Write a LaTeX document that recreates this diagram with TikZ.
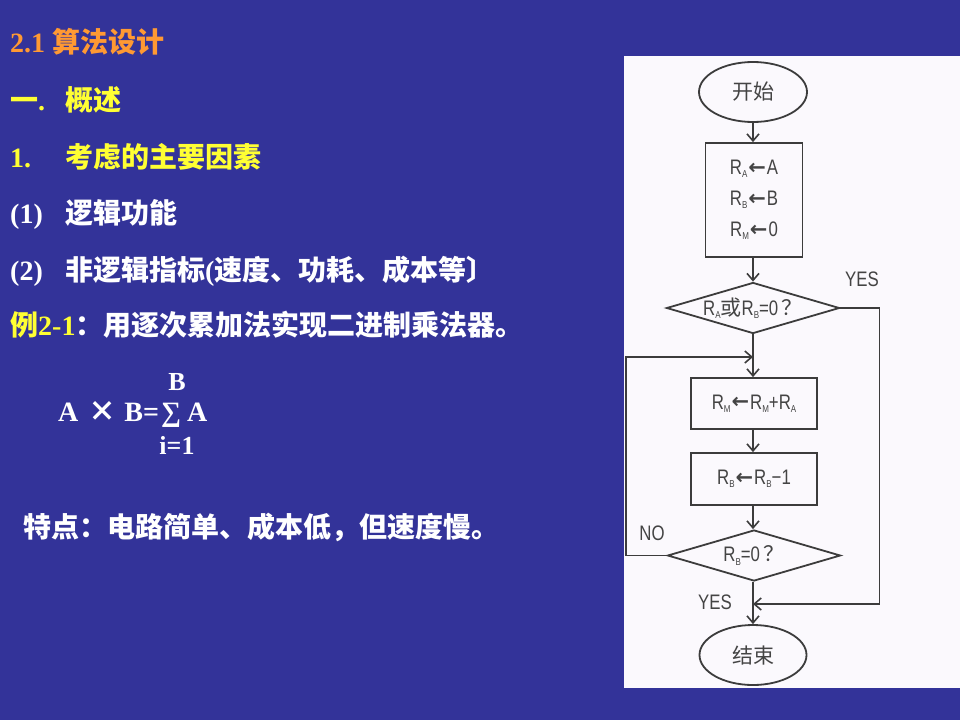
\documentclass[tikz,border=0pt]{standalone}
\usepackage{fontspec}
\setmainfont{Liberation Serif}
\newfontfamily\cjk{Noto Sans CJK SC}
\newfontfamily\fc{Liberation Sans}[FakeStretch=0.8]
\newfontfamily\djvfont{DejaVu Sans}
\usetikzlibrary{shapes.geometric,arrows.meta}
\definecolor{bg}{HTML}{333399}
\definecolor{panel}{HTML}{FBF9FD}
\definecolor{ora}{HTML}{FF9933}
\definecolor{yel}{HTML}{FFFF33}
\definecolor{ln}{HTML}{3C3C3C}
\definecolor{ft}{HTML}{444444}
\newcommand{\zh}[1]{{\cjk\bfseries #1}}
\newcommand{\zr}[1]{{\cjk #1}}
\newcommand{\rs}[1]{R\raisebox{-0.3ex}{\fontsize{10}{10}\selectfont #1}}
\newcommand{\la}{\kern1pt\raisebox{0.5pt}{\djvfont\bfseries ←}\kern1pt}
\begin{document}
\begin{tikzpicture}[x=1pt,y=-1pt,
  txt/.style={anchor=base west, inner sep=0pt, text=white, font=\fontsize{28}{28}\selectfont\bfseries},
  ctxt/.style={anchor=center, inner sep=0pt, text=white, font=\fontsize{26}{26}\selectfont\bfseries},
  shp/.style={draw=ln, line width=1.8pt, inner sep=0pt, text=ft, font=\fc\fontsize{21}{31}\selectfont, align=center},
  ell/.style={shp, ellipse},
  box/.style={shp, rectangle, minimum width=97pt},
  dia/.style={shp, diamond, aspect=3.4, minimum width=173pt, minimum height=51pt},
  lbl/.style={inner sep=0pt, text=ft, font=\fc\fontsize{21}{21}\selectfont},
  arr/.style={draw=ln, line width=1.8pt, -{Straight Barb[length=7pt,width=12pt,line width=1.6pt]}}]
\useasboundingbox (0,0) rectangle (960,720);
\fill[bg] (0,0) rectangle (960,720);
\fill[panel] (624,56) rectangle (960,688);

% left text
\node[txt, text=ora] (t0) at (10,52) {2.1 \zh{算法设计}};
\node[txt, text=yel] (t1a) at (10,110) {\zh{一}.};
\node[txt, text=yel] (t1b) at (65,110) {\zh{概述}};
\node[txt, text=yel] (t2a) at (10,167) {1.};
\node[txt, text=yel] (t2b) at (65,167) {\zh{考虑的主要因素}};
\node[txt] (t3a) at (10,223) {(1)};
\node[txt] (t3b) at (65,223) {\zh{逻辑功能}};
\node[txt] (t4a) at (10,280) {(2)};
\node[txt] (t4b) at (65,280) {\zh{非逻辑指标}(\zh{速度、功耗、成本等〕}};
\node[txt] (t5) at (10,335) {{\color{yel}\zh{例}2-1}\zh{：用逐次累加法实现二进制乘法器。}};
\node[txt] (f) at (58,421) {A\hspace{10pt}\zh{×}\hspace{8pt}B=\hspace{2pt}∑\hspace{6pt}A};
\node[ctxt] (fb) at (177,382) {B};
\node[ctxt] (fi) at (177,445) {i=1};
\node[txt] (t6) at (23,537) {\zh{特点：电路简单、成本低，但速度慢。}};

% flowchart
\node[ell, minimum width=108pt, minimum height=60pt] (st) at (753,92) {\zr{开始}};
\node[box, minimum height=114pt] (b1) at (754,200) {\rs{A}\la A\\\rs{B}\la B\\\rs{M}\la 0};
\node[dia] (d1) at (753,308) {\rs{A}\zr{或}\rs{B}=0\,\zr{？}};
\node[box, minimum width=126pt, minimum height=51pt] (b2) at (754,403.5) {\rs{M}\la\rs{M}+\rs{A}};
\node[box, minimum width=126pt, minimum height=52pt] (b3) at (754,479) {\rs{B}\la\rs{B}−1};
\node[dia] (d2) at (754,555.5) {\rs{B}=0\,\zr{？}};
\node[ell, minimum width=107pt, minimum height=60pt] (en) at (753,655) {\zr{结束}};

\coordinate (lp) at (753,357);
\coordinate (mg) at (753,604);

\draw[arr] (st.south) -- (st.south |- b1.north);
\draw[arr] (b1.south -| st.south) -- (d1.north);
\draw[arr] (d1.south) -- (d1.south |- b2.north);
\draw[arr] (b2.south -| d1.south) -- (d1.south |- b3.north);
\draw[arr] (b3.south -| d1.south) -- (d1.south |- d2.north);
\draw[arr] (d2.south -| d1.south) -- (en.north);
\draw[arr] (d2.west) -- ++(-41,0) |- (lp);
\draw[arr] (d1.east) -- ++(39,0) |- (mg);

\node[lbl] (yes1) at (862,279) {YES};
\node[lbl] (no) at (652,533) {NO};
\node[lbl] (yes2) at (715,602) {YES};
\end{tikzpicture}
\end{document}
